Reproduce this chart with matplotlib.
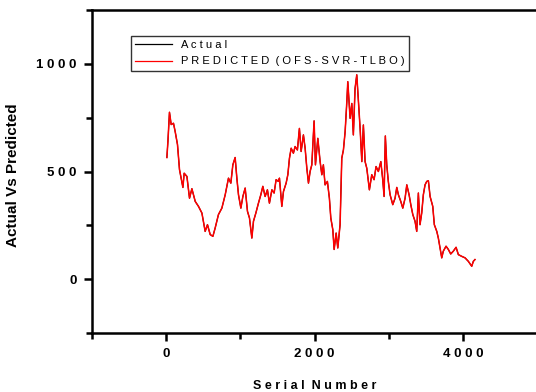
import matplotlib
matplotlib.use("Agg")
import matplotlib.pyplot as plt
from matplotlib.ticker import MultipleLocator, FuncFormatter
from matplotlib.lines import Line2D

plt.rcParams['font.family'] = ['Liberation Sans', 'DejaVu Sans']

# serial number / value pairs traced along the series
serial = [9, 23, 44, 67, 98, 121, 152, 179, 225, 242, 279, 314, 346, 391, 435, 481,
          525, 556, 593, 629, 660, 704, 750, 795, 839, 871, 898, 929, 952, 974, 1006,
          1033, 1064, 1095, 1122, 1154, 1176, 1208, 1243, 1275, 1302, 1333, 1364, 1391,
          1424, 1454, 1481, 1512, 1526, 1558, 1580, 1616, 1639, 1661, 1684, 1714, 1737,
          1768, 1795, 1818, 1849, 1872, 1895, 1917, 1939, 1962, 1993, 2011, 2043, 2074,
          2097, 2118, 2141, 2172, 2199, 2218, 2245, 2263, 2290, 2312, 2343, 2366, 2388,
          2411, 2434, 2447, 2478, 2501, 2522, 2545, 2568, 2590, 2613, 2636, 2657, 2680,
          2703, 2738, 2770, 2801, 2828, 2859, 2892, 2918, 2936, 2953, 2972, 2993, 3017,
          3053, 3084, 3107, 3129, 3161, 3188, 3219, 3242, 3273, 3296, 3323, 3353, 3376,
          3398, 3420, 3443, 3465, 3488, 3511, 3533, 3556, 3592, 3613, 3646, 3667, 3690,
          3713, 3734, 3771, 3802, 3834, 3869, 3906, 3937, 3982, 4027, 4071, 4117, 4139,
          4161]
predicted = [565, 639, 775, 718, 724, 685, 625, 509, 426, 492, 477, 376, 420, 361, 338,
             307, 222, 253, 207, 199, 238, 300, 330, 392, 469, 446, 531, 565, 469, 392,
             330, 384, 423, 315, 284, 191, 269, 307, 353, 392, 431, 384, 415, 353, 415,
             400, 462, 454, 469, 338, 407, 446, 485, 562, 608, 585, 616, 600, 700, 593,
             670, 608, 515, 446, 500, 531, 735, 531, 654, 546, 485, 531, 438, 454, 376,
             284, 230, 138, 214, 145, 253, 562, 600, 685, 824, 917, 747, 816, 670, 886,
             949, 824, 700, 546, 716, 546, 515, 415, 485, 462, 523, 500, 546, 462, 384,
             665, 531, 454, 392, 346, 376, 426, 392, 361, 330, 376, 438, 392, 346, 300,
             269, 222, 400, 253, 307, 392, 438, 454, 457, 384, 338, 253, 222, 191, 145,
             99, 130, 153, 138, 117, 130, 148, 114, 106, 99, 83, 60, 83, 91]
# actual values sit underneath the prediction
actual = predicted

fig = plt.figure(figsize=(5.36, 3.92), dpi=100)
ax = fig.add_axes([92 / 536, 59 / 392, 445.25 / 536, 323 / 392])

ax.plot(serial, actual, color='black', lw=0.8)
ax.plot(serial, predicted, color='red', lw=1.1)

ax.set_xlim(-1000, 5000)
ax.set_ylim(-250, 1250)
ax.xaxis.set_major_locator(MultipleLocator(2000))
ax.xaxis.set_minor_locator(MultipleLocator(1000))
ax.yaxis.set_major_locator(MultipleLocator(500))
ax.yaxis.set_minor_locator(MultipleLocator(250))

spaced = FuncFormatter(lambda v, p: " ".join(str(int(v))))
ax.xaxis.set_major_formatter(spaced)
ax.yaxis.set_major_formatter(spaced)

for s in ('left', 'bottom', 'top'):
    ax.spines[s].set_linewidth(1.8)
ax.spines['right'].set_visible(False)
ax.tick_params(which='major', direction='out', length=6, width=1.8,
               labelsize=9.5, pad=5, top=False, right=False)
ax.tick_params(which='minor', direction='out', length=4, width=1.8,
               top=False, right=False)
for lab in ax.get_xticklabels() + ax.get_yticklabels():
    lab.set_fontweight('bold')

ax.set_xlabel("S e r i a l  N u m b e r", fontsize=9, fontweight='bold')
ax.xaxis.set_label_coords(0.5, -0.145)
ax.set_ylabel("Actual Vs Predicted", fontsize=11, fontweight='bold')
ax.yaxis.set_label_coords(-0.162, 0.49)

handles = [Line2D([], [], color='black', lw=0.9),
           Line2D([], [], color='red', lw=0.9)]
leg = ax.legend(handles, ["A c t u a l",
                          "P R E D I C T E D  ( O F S - S V R - T L B O )"],
                loc='upper left', bbox_to_anchor=(0.087, 0.92), fontsize=8,
                frameon=True, fancybox=False, borderpad=0.4, handlelength=3.3,
                labelspacing=0.55, handletextpad=0.8, borderaxespad=0)
leg.get_frame().set_edgecolor('black')
leg.get_frame().set_linewidth(1.0)

fig.savefig("out.png", dpi=100)
